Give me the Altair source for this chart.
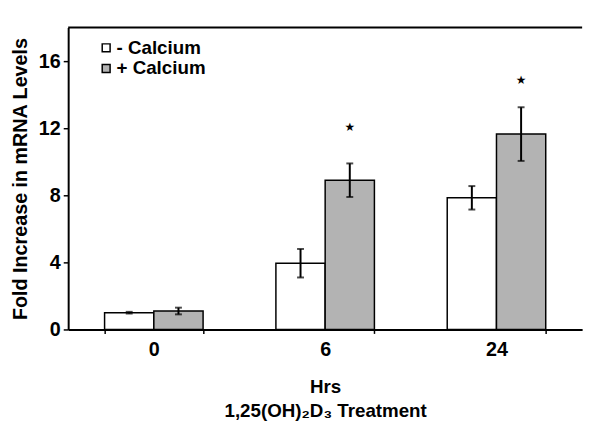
import altair as alt
import pandas as pd

hours = ["0", "6", "24"]
groups = ["- Calcium", "+ Calcium"]
minus_mean = [1.0, 3.95, 7.85]
minus_err = [0.05, 0.85, 0.7]
plus_mean = [1.1, 8.9, 11.65]
plus_err = [0.2, 1.0, 1.6]
plus_star = [None, 12.05, 14.9]
y_ticks = [0, 4, 8, 12, 16]
y_max = 18

rows = []
for i, h in enumerate(hours):
    rows.append({"hrs": h, "group": groups[0], "mean": minus_mean[i],
                 "lo": minus_mean[i] - minus_err[i], "hi": minus_mean[i] + minus_err[i], "star": None})
    rows.append({"hrs": h, "group": groups[1], "mean": plus_mean[i],
                 "lo": plus_mean[i] - plus_err[i], "hi": plus_mean[i] + plus_err[i], "star": plus_star[i]})
df = pd.DataFrame(rows)
stars = df.dropna(subset=["star"])

FONT = "Liberation Sans"

x_enc = alt.X("hrs:N", sort=hours,
              scale=alt.Scale(domain=hours, paddingInner=0.425, paddingOuter=0.2125),
              axis=alt.Axis(labelAngle=0, tickBand="extent", tickSize=4, labelPadding=6,
                            title=["Hrs", "1,25(OH)₂D₃ Treatment"], titlePadding=19,
                            titleLineHeight=24))
xo_enc = alt.XOffset("group:N", sort=groups,
                     scale=alt.Scale(domain=groups, paddingInner=0, paddingOuter=0))
y_scale = alt.Scale(domain=[0, y_max], nice=False)

base = alt.Chart(df)

bars = base.mark_bar(stroke="black", strokeWidth=1.5).encode(
    x=x_enc,
    xOffset=xo_enc,
    y=alt.Y("mean:Q", scale=y_scale,
            axis=alt.Axis(values=y_ticks, tickSize=5, labelPadding=3,
                          title="Fold Increase in mRNA Levels", titleFontSize=20,
                          titlePadding=8)),
    color=alt.Color("group:N", sort=groups,
                    scale=alt.Scale(domain=groups, range=["#ffffff", "#b3b3b3"]),
                    legend=alt.Legend(orient="none", legendX=29, legendY=11, title=None,
                                      symbolType="square", symbolSize=64,
                                      symbolStrokeColor="black", symbolStrokeWidth=1.5,
                                      labelFont=FONT, labelFontSize=19, labelFontWeight="bold",
                                      labelColor="black", labelOffset=1, rowPadding=1,
                                      padding=0)),
)

err = base.mark_rule(color="black", strokeWidth=2).encode(
    x=alt.X("hrs:N", sort=hours), xOffset=xo_enc,
    y=alt.Y("lo:Q", scale=y_scale), y2="hi:Q")

cap_hi = base.mark_tick(color="black", thickness=2, size=7, orient="horizontal").encode(
    x=alt.X("hrs:N", sort=hours), xOffset=xo_enc, y=alt.Y("hi:Q", scale=y_scale))
cap_lo = base.mark_tick(color="black", thickness=2, size=7, orient="horizontal").encode(
    x=alt.X("hrs:N", sort=hours), xOffset=xo_enc, y=alt.Y("lo:Q", scale=y_scale))

star_marks = alt.Chart(stars).mark_text(text="★", fontSize=12, font="DejaVu Sans",
                                        color="black", baseline="middle").encode(
    x=alt.X("hrs:N", sort=hours), xOffset=xo_enc, y=alt.Y("star:Q", scale=y_scale))

top_line = alt.Chart(pd.DataFrame({"top": [y_max]})).mark_rule(
    color="black", strokeWidth=2).encode(y=alt.Y("top:Q", scale=y_scale))

chart = alt.layer(bars, err, cap_hi, cap_lo, star_marks, top_line).properties(
    width=521, height=306,
    autosize=alt.AutoSizeParams(type="none"),
    padding={"left": 61, "top": 17, "right": 10, "bottom": 95},
).configure_view(stroke=None).configure_axis(
    domainColor="black", domainWidth=2, tickColor="black", tickWidth=1.5,
    labelFont=FONT, labelFontSize=20, labelFontWeight="bold", labelColor="black",
    titleFont=FONT, titleFontSize=19, titleFontWeight="bold", titleColor="black",
    grid=False,
)

chart.save("out.html", embed_options={"renderer": "svg", "actions": False})
